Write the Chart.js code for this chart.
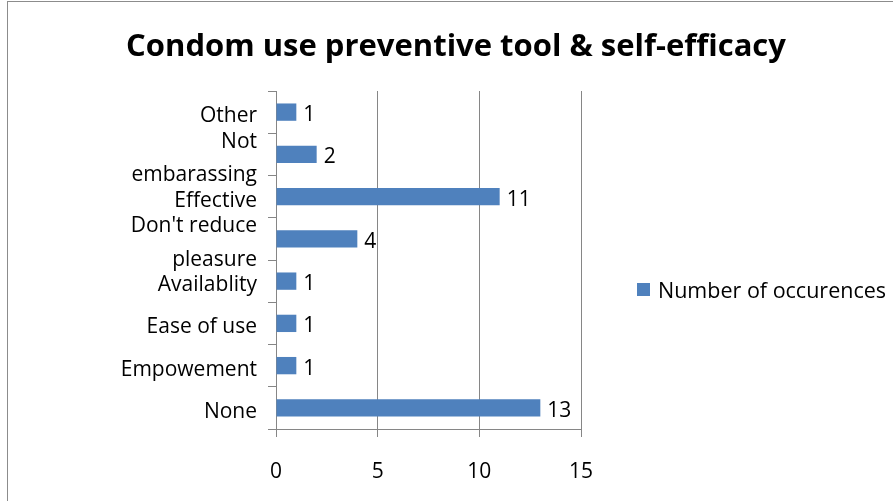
<!DOCTYPE html>
<html>
<head>
<meta charset="utf-8">
<script src="https://cdn.jsdelivr.net/npm/chart.js@4/dist/chart.umd.min.js"></script>
<style>
  html, body { margin: 0; padding: 0; background: #fff; overflow: hidden; }
  #wrap { position: relative; width: 893px; height: 501px; }
  #frame { position: absolute; left: 7px; top: 1px; width: 900px; height: 520px;
           border-top: 1px solid #8c8c8c; border-left: 1px solid #8c8c8c; }
  canvas { position: absolute; left: 0; top: 0; }
</style>
</head>
<body>
<div id="wrap">
  <div id="frame"></div>
  <canvas id="chart" width="893" height="501"></canvas>
</div>
<script>
const categories = [
  ['Other'],
  ['Not', 'embarassing'],
  ['Effective'],
  ["Don't reduce", 'pleasure'],
  ['Availablity'],
  ['Ease of use'],
  ['Empowement'],
  ['None']
];
const occurrences = [1, 2, 11, 4, 1, 1, 1, 13];
const xTicks = [0, 5, 10, 15];
const seriesName = 'Number of occurences';
const chartTitle = 'Condom use preventive tool & self-efficacy';

const FONT = 'Open Sans';
const GRAY = '#868686';

// title centred on the whole picture (the built-in one would centre over the plot only)
const wideTitle = {
  id: 'wideTitle',
  afterDraw(chart) {
    const ctx = chart.ctx;
    ctx.save();
    ctx.font = 'bold 31px "' + FONT + '"';
    ctx.fillStyle = '#000';
    ctx.textAlign = 'center';
    ctx.textBaseline = 'middle';
    ctx.fillText(chartTitle, 456, 47);
    ctx.restore();
  }
};

// value labels next to each bar
const barLabels = {
  id: 'barLabels',
  afterDatasetsDraw(chart) {
    const ctx = chart.ctx;
    const meta = chart.getDatasetMeta(0);
    ctx.save();
    ctx.font = '21px "' + FONT + '"';
    ctx.fillStyle = '#000';
    ctx.textAlign = 'left';
    ctx.textBaseline = 'middle';
    meta.data.forEach((bar, i) => {
      ctx.fillText(String(chart.data.datasets[0].data[i]), bar.x + 7, bar.y + 3);
    });
    ctx.restore();
  }
};

// legend drawn on the right, Excel-style
const sideLegend = {
  id: 'sideLegend',
  afterDraw(chart) {
    const ctx = chart.ctx;
    const ds = chart.data.datasets[0];
    ctx.save();
    ctx.fillStyle = ds.backgroundColor;
    ctx.fillRect(637, 283, 13, 13);
    ctx.font = '21.5px "' + FONT + '"';
    ctx.fillStyle = '#000';
    ctx.textAlign = 'left';
    ctx.textBaseline = 'middle';
    ctx.fillText(ds.label, 658, 292);
    ctx.restore();
  }
};

new Chart(document.getElementById('chart'), {
  type: 'bar',
  data: {
    labels: categories,
    datasets: [{
      label: seriesName,
      data: occurrences,
      backgroundColor: '#4F81BD',
      categoryPercentage: 1,
      barPercentage: 0.41
    }]
  },
  options: {
    indexAxis: 'y',
    responsive: false,
    animation: false,
    layout: { padding: { left: 0, right: 312, top: 91, bottom: 0 } },
    plugins: {
      legend: { display: false },
      tooltip: { enabled: false },
      title: { display: false }
    },
    scales: {
      x: {
        min: 0,
        max: 15,
        afterBuildTicks(scale) { scale.ticks = xTicks.map(v => ({ value: v })); },
        afterFit(scale) { scale.height = 72; },
        grid: { color: GRAY, lineWidth: 1, tickLength: 8, drawTicks: true },
        border: { color: GRAY },
        ticks: { color: '#000', padding: 22, font: { family: FONT, size: 21 } }
      },
      y: {
        afterFit(scale) { scale.width = 276; },
        grid: { drawOnChartArea: false, color: GRAY, tickLength: 8, offset: true },
        border: { color: GRAY },
        ticks: {
          color: '#000', padding: 11, autoSkip: false, labelOffset: 4,
          font: { family: FONT, size: 21, lineHeight: 1.6 }
        }
      }
    }
  },
  plugins: [wideTitle, barLabels, sideLegend]
});
</script>
</body>
</html>
